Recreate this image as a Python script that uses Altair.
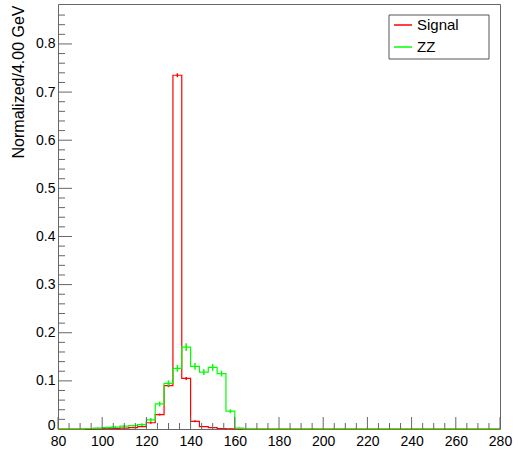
import altair as alt
import pandas as pd

# ---- data -------------------------------------------------------------
bin_edges = list(range(80, 281, 4))          # 50 bins of 4 GeV, 80..280
signal = [0, 0, 0, 0, 0.0005,
          0.001, 0.001, 0.002, 0.003, 0.005,
          0.013, 0.030, 0.090, 0.735, 0.105,
          0.016, 0.005, 0.003, 0.001, 0.0005] + [0] * 30
signal_err = [0, 0, 0, 0, 0.0005,
              0.001, 0.001, 0.001, 0.001, 0.001,
              0.002, 0.002, 0.003, 0.004, 0.003,
              0.002, 0.001, 0.001, 0.001, 0.0005] + [0] * 30
zz = [0, 0, 0, 0.001, 0.002,
      0.003, 0.004, 0.006, 0.007, 0.009,
      0.019, 0.052, 0.095, 0.126, 0.170,
      0.130, 0.118, 0.128, 0.115, 0.037,
      0.002] + [0] * 29
zz_err = [0, 0, 0, 0.001, 0.001,
          0.002, 0.002, 0.002, 0.002, 0.003,
          0.004, 0.005, 0.006, 0.007, 0.008,
          0.007, 0.006, 0.007, 0.006, 0.004,
          0.001] + [0] * 29

series_names = ["Signal", "ZZ"]
series_colors = ["#ff0000", "#00ff00"]

x_major = [80, 100, 120, 140, 160, 180, 200, 220, 240, 260, 280]
x_minor = [v for v in range(80, 281, 5) if v % 20 != 0]
y_major = [0.1, 0.2, 0.3, 0.4, 0.5, 0.6, 0.7, 0.8]
y_minor = [0.02, 0.04, 0.06, 0.08, 0.12, 0.14, 0.16, 0.18, 0.22, 0.24, 0.26, 0.28,
           0.32, 0.34, 0.36, 0.38, 0.42, 0.44, 0.46, 0.48, 0.52, 0.54, 0.56, 0.58,
           0.62, 0.64, 0.66, 0.68, 0.72, 0.74, 0.76, 0.78, 0.82, 0.84, 0.86]
y_labels = [0, 0.1, 0.2, 0.3, 0.4, 0.5, 0.6, 0.7, 0.8]

X_DOMAIN = [80, 280]
Y_DOMAIN = [0, 0.883]
W, H = 442, 425
FONT = "Liberation Sans"


def step_frame(name, vals):
    xs = bin_edges[:-1] + [bin_edges[-1]]
    ys = vals + [vals[-1]]
    return pd.DataFrame({"x": xs, "y": ys, "series": name})


def err_frame(name, vals, errs):
    rows = []
    for lo, hi, v, e in zip(bin_edges[:-1], bin_edges[1:], vals, errs):
        if v > 0:
            rows.append({"x": (lo + hi) / 2, "y": v - e, "hi": v + e, "series": name})
    return pd.DataFrame(rows)


xs = alt.Scale(domain=X_DOMAIN, nice=False, zero=False)
ys = alt.Scale(domain=Y_DOMAIN, nice=False)
cs = alt.Scale(domain=series_names, range=series_colors)

x_axis = alt.Axis(values=x_major, ticks=False, domain=False, grid=False,
                  labelFontSize=14, labelFont=FONT, labelColor="#000",
                  labelPadding=5, title=None, labelFlush=False)
y_axis = alt.Axis(values=y_labels, ticks=False, domain=False, grid=False,
                  labelFontSize=14, labelFont=FONT, labelColor="#000",
                  labelPadding=3, labelFlush=False,
                  labelOffset={"condition": {"test": "datum.value == 0", "value": -4},
                               "value": 0},
                  labelExpr="datum.value == 0 ? '0' : format(datum.value, '.1f')",
                  title="Normalized/4.00 GeV", titleFont=FONT, titleFontSize=16,
                  titleFontWeight="normal", titleColor="#000",
                  titleAnchor="end", titleX=-35, titleY=1, titleBaseline="alphabetic",
                  titleAlign="right", titleAngle=270)

legend = alt.Legend(orient="none", legendX=331, legendY=7, title=None,
                    symbolType="stroke", symbolSize=324, symbolStrokeWidth=1.5,
                    labelFont=FONT, labelFontSize=15, labelColor="#000",
                    labelOffset=4, padding=4, rowPadding=4)

X = lambda f: alt.X(f, scale=xs, axis=x_axis)
Y = lambda f: alt.Y(f, scale=ys, axis=y_axis)
C = alt.Color("series:N", scale=cs, legend=legend)


def hist_layer(name, vals):
    return alt.Chart(step_frame(name, vals)).mark_line(
        interpolate="step-after", strokeWidth=1.2
    ).encode(x=X("x:Q"), y=Y("y:Q"), color=C)


def err_layer(name, vals, errs):
    return alt.Chart(err_frame(name, vals, errs)).mark_rule(strokeWidth=1.5).encode(
        x=X("x:Q"), y=Y("y:Q"), y2="hi:Q", color=C)


tick_col = "#666"
xmaj = alt.Chart(pd.DataFrame({"x": x_major})).mark_rule(color=tick_col).encode(
    x=X("x:Q"), y=alt.value(H), y2=alt.value(H - 12))
xmin = alt.Chart(pd.DataFrame({"x": x_minor})).mark_rule(color=tick_col).encode(
    x=X("x:Q"), y=alt.value(H), y2=alt.value(H - 6))
ymaj = alt.Chart(pd.DataFrame({"y": y_major})).mark_rule(color=tick_col).encode(
    y=Y("y:Q"), x=alt.value(0), x2=alt.value(14))
ymin = alt.Chart(pd.DataFrame({"y": y_minor})).mark_rule(color=tick_col).encode(
    y=Y("y:Q"), x=alt.value(0), x2=alt.value(7))

# legend frame (decoration)
legend_box = alt.Chart(pd.DataFrame({"k": [0]})).mark_rect(
    fill="white", stroke="#555", strokeWidth=1
).encode(x=alt.value(331), x2=alt.value(431), y=alt.value(11), y2=alt.value(55))

chart = alt.layer(
    hist_layer("Signal", signal),
    err_layer("Signal", signal, signal_err),
    hist_layer("ZZ", zz),
    err_layer("ZZ", zz, zz_err),
    xmaj, xmin, ymaj, ymin,
    legend_box,
).properties(
    width=W, height=H,
    autosize=alt.AutoSizeParams(type="none"),
    padding={"left": 58, "top": 4, "right": 18, "bottom": 22},
    background="white",
).configure_view(stroke="#666", strokeWidth=1)

chart.save("out.html", embed_options={"renderer": "svg", "actions": False})
